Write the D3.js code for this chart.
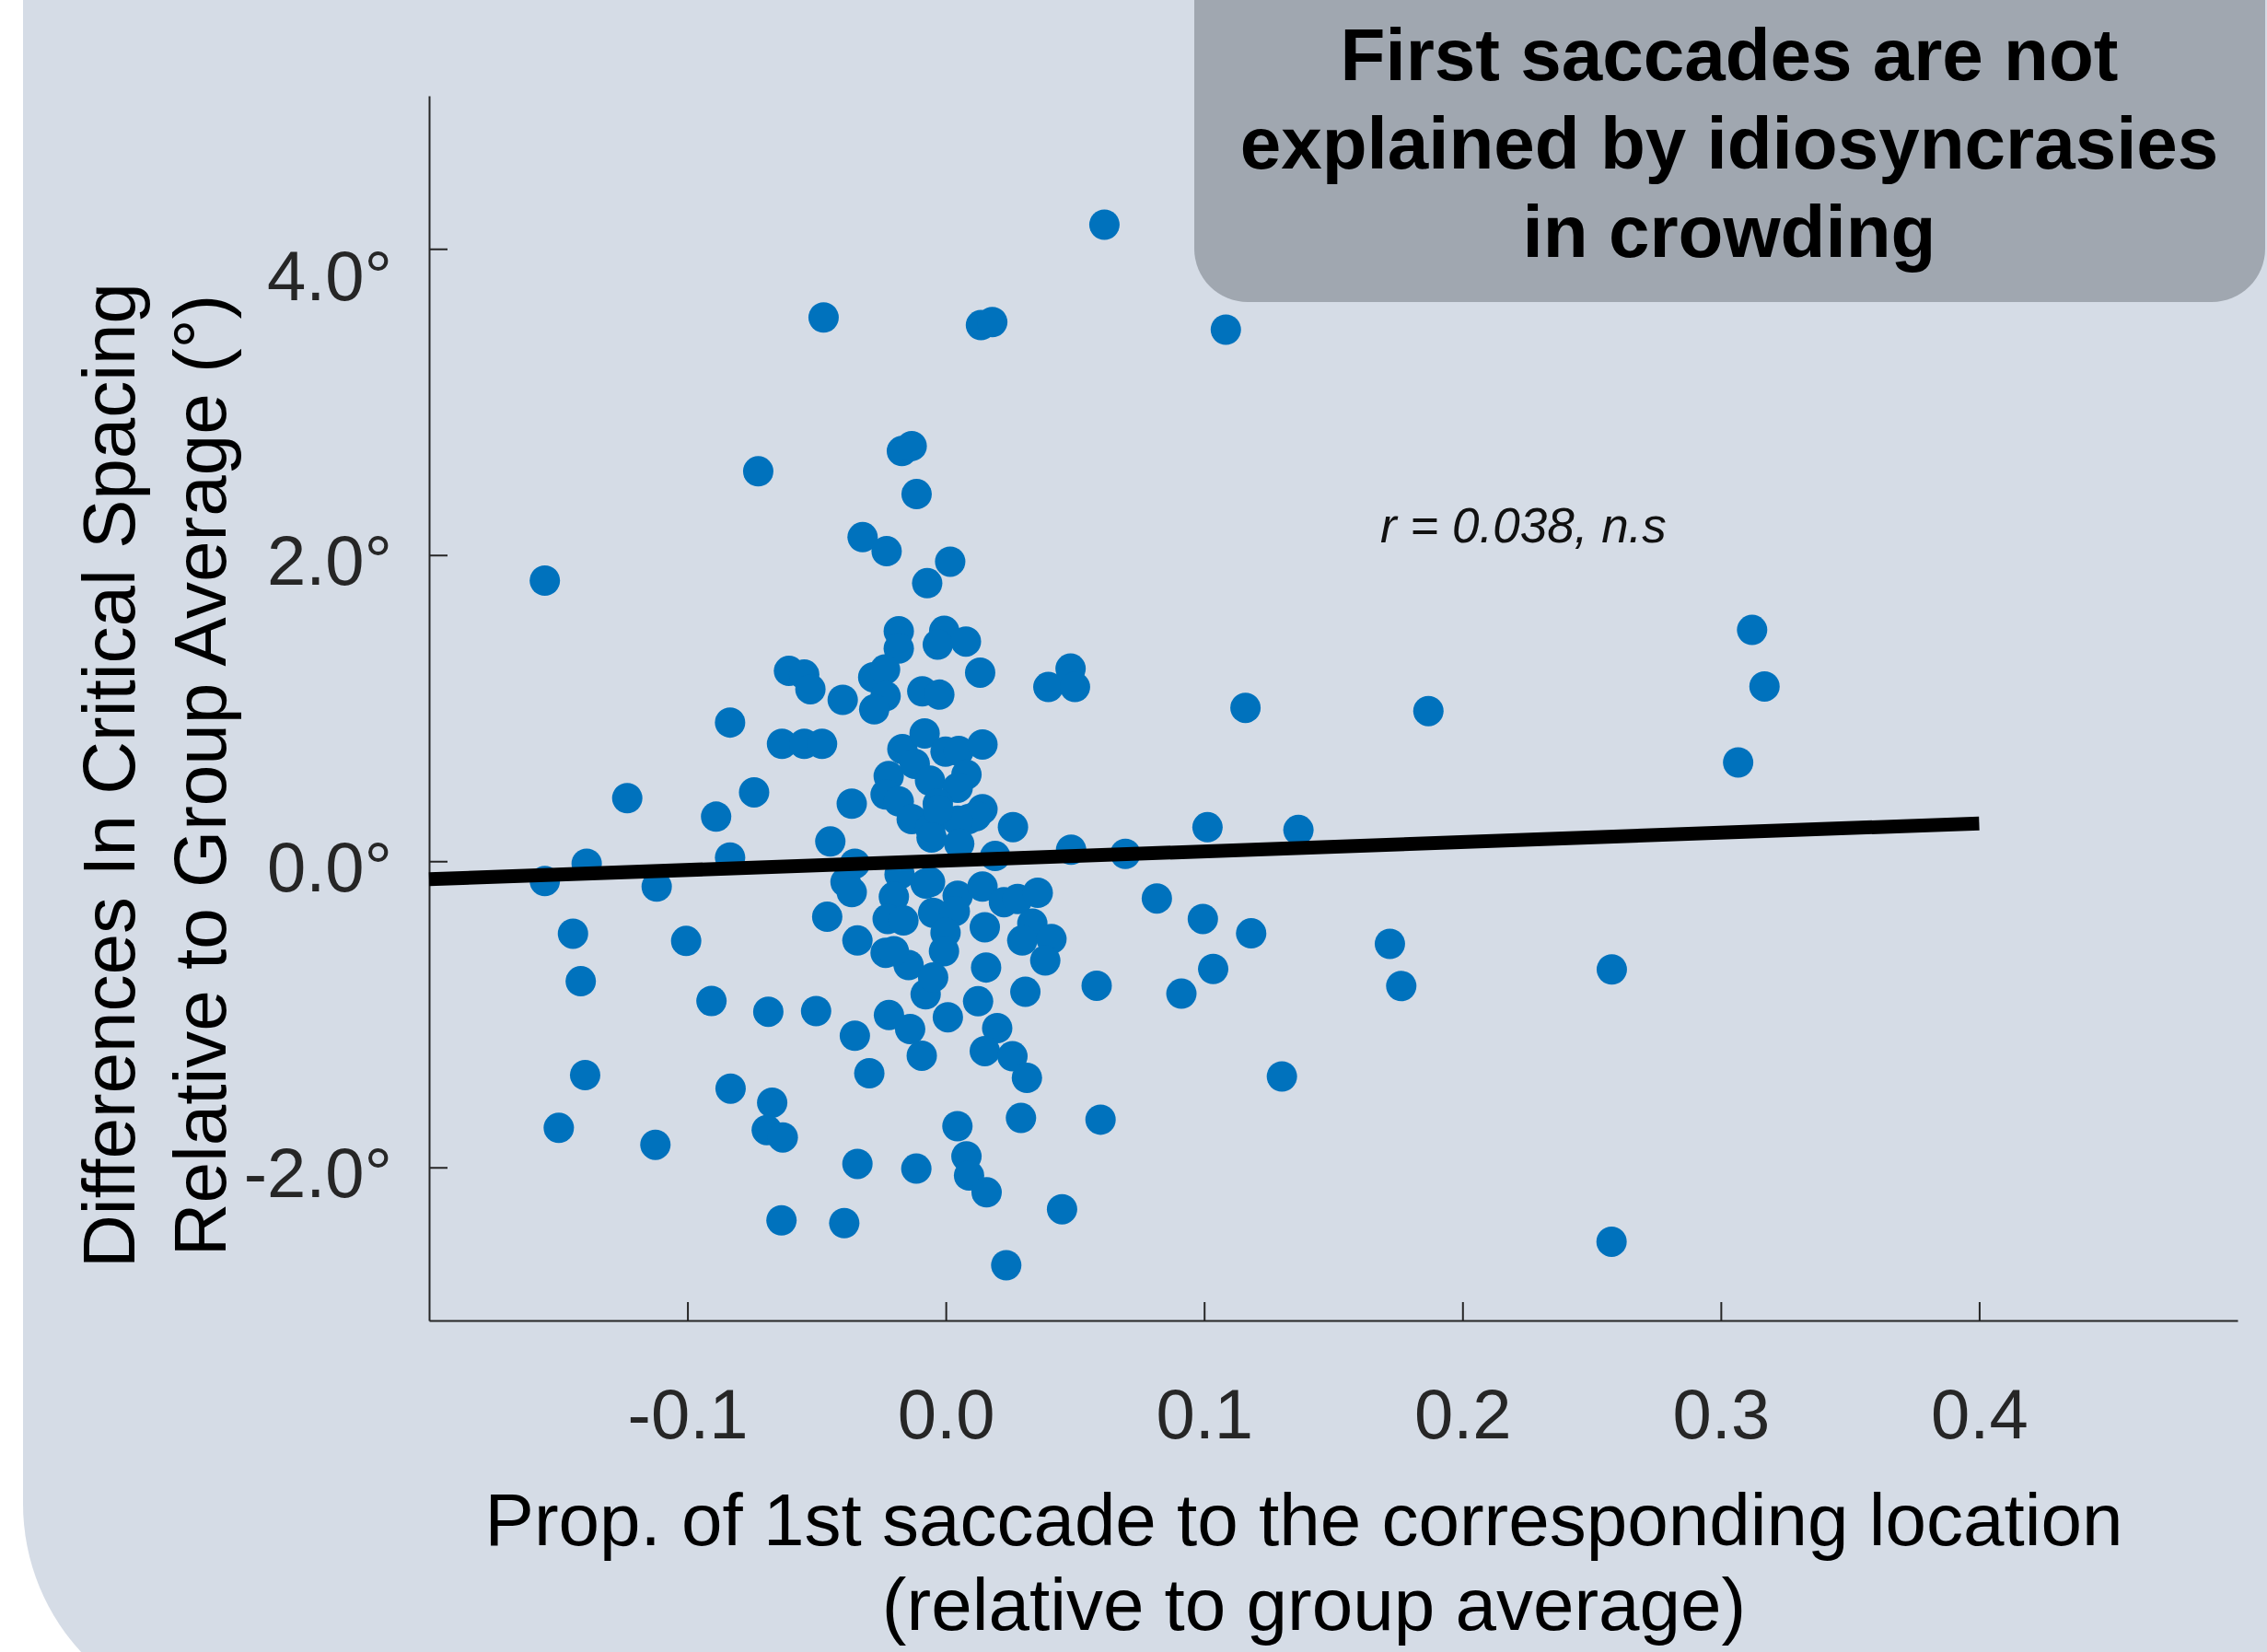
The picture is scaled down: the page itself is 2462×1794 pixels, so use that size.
<!DOCTYPE html>
<html>
<head>
<meta charset="utf-8">
<script src="https://cdn.jsdelivr.net/npm/d3@7"></script>
<style>
  html, body { margin: 0; padding: 0; background: #ffffff; }
  svg { display: block; }
</style>
</head>
<body>
<script>
// Proportion of first saccades to each location (relative to group average)
const propFirstSaccade = [
  0.0614, -0.0473, 0.0136, 0.0180, 0.1084,
  -0.0726, -0.0170, -0.0132, -0.0113, -0.1552, -0.0322, -0.0229, 0.0017, -0.0072,
  -0.0182, -0.0182, -0.0006, -0.0031, 0.0078, 0.0133, -0.0607, -0.0548, -0.0524,
  -0.0399, -0.0281, -0.0235, -0.0233, -0.0277, -0.0091, -0.0025, 0.0397, 0.0483,
  0.0500, 0.1160, -0.0835, -0.0634, -0.0548, -0.0479, -0.0168, -0.0082, -0.0120,
  -0.0221, -0.0233, -0.0182, -0.0132, -0.1233, -0.0742, -0.0889, -0.0364, -0.0447,
  -0.0001, 0.0050, 0.0142, -0.0061, 0.0080, 0.0046, -0.0031, 0.0142, 0.0088,
  0.0260, -0.0060, 0.1013, 0.1365,
  -0.1552, -0.1390, -0.0835, -0.1119, -0.0352, -0.0388, -0.0364, -0.0459, -0.0342,
  -0.0179, -0.0201, -0.0225, -0.0164, -0.0233, -0.0144, -0.0078, -0.0078, -0.1443,
  -0.1005, -0.1413, -0.0907, -0.0687, -0.0502, -0.0352, -0.0220, -0.0138, -0.0093,
  -0.0296, -0.1396, -0.0833, -0.0672, -0.0693, -0.0631, -0.1498, -0.1124, -0.0342,
  -0.0114, -0.0636, -0.0393,
  0.0485, 0.0695, 0.0191, 0.0118, 0.0046, -0.0030, -0.0055, 0.0052, -0.0061,
  0.0046, 0.0142, 0.0225, 0.0278, 0.0356, -0.0049, 0.0035, -0.0001, 0.0151,
  0.0335, 0.0296, 0.0409, 0.0385, -0.0201, -0.0007, -0.0049, 0.0156, 0.0584,
  0.0817, 0.0995, 0.1182, 0.1035, 0.0912, 0.0308, 0.0125, 0.0008, 0.0199,
  0.0151, 0.0258, 0.0314, 0.1301, 0.0045, 0.0291, 0.0599, 0.0080, 0.0090,
  0.0158, 0.0450, 0.0234,
  0.3121, 0.3169, 0.3067, 0.1868, 0.1719, 0.1763, 0.2578, 0.2577
];

// Difference in critical spacing relative to group average (deg)
const critSpacingDiff = [
  4.158, 3.552, 3.502, 3.522, 3.472,
  2.547, 2.679, 2.712, 2.398, 1.833, 2.117, 2.025, 1.957, 1.816,
  1.503, 1.389, 1.505, 1.415, 1.435, 1.232, 1.243, 1.219, 1.124,
  1.054, 1.202, 1.252, 1.078, 0.992, 1.110, 1.088, 1.138, 1.258,
  1.138, 1.002, 0.906, 0.767, 0.767, 0.767, 0.733, 0.835, 0.636,
  0.556, 0.436, 0.391, 0.275, 0.412, 0.450, 0.291, 0.376, 0.129,
  0.716, 0.721, 0.763, 0.526, 0.566, 0.480, 0.376, 0.340, 0.275,
  0.223, 0.215, 0.222, 0.204,
  -0.130, -0.016, 0.024, -0.166, -0.016, -0.136, -0.202, -0.363, -0.518,
  -0.086, -0.232, -0.377, -0.387, -0.598, -0.678, -0.146, -0.869, -0.473,
  -0.521, -0.784, -0.913, -0.983, -0.979, -1.140, -1.005, -1.096, -1.270,
  -1.385, -1.397, -1.485, -1.577, -1.756, -1.804, -1.742, -1.852, -1.977,
  -2.008, -2.346, -2.364,
  0.075, 0.048, 0.034, 0.295, 0.265, 0.335, 0.155, 0.114, -0.136,
  -0.226, -0.166, -0.267, -0.247, -0.206, -0.337, -0.327, -0.467, -0.431,
  -0.407, -0.518, -0.508, -0.648, -0.588, -0.588, -0.759, -0.694, -0.813,
  -0.243, -0.377, -0.471, -0.704, -0.865, -0.853, -0.915, -1.019, -1.090,
  -1.240, -1.274, -1.415, -1.406, -1.731, -1.677, -1.688, -1.928, -2.053,
  -2.163, -2.273, -2.639,
  1.511, 1.142, 0.645, 0.981, -0.540, -0.815, -0.707, -2.485
];

// Least-squares fit line end points
const fitX = [-0.2, 0.4];
const fitY = [-0.118, 0.247];

const xTicks = [-0.1, 0.0, 0.1, 0.2, 0.3, 0.4];
const yTicks = [-2, 0, 2, 4];

const titleLines = ["First saccades are not", "explained by idiosyncrasies", "in crowding"];
const xLabelLines = ["Prop. of 1st saccade to the corresponding location", "(relative to group average)"];
const yLabelLines = ["Differences In Critical Spacing", "Relative to Group Average (\u00B0)"];
const statText = "r = 0.038, n.s";

const W = 2462, H = 1794;
const FONT = "'Liberation Sans', Arial, Helvetica, sans-serif";

const svg = d3.select("body").append("svg")
  .attr("width", W).attr("height", H)
  .attr("viewBox", `0 0 ${W} ${H}`);

// Rounded background panel
svg.append("rect")
  .attr("x", 25).attr("y", -400)
  .attr("width", 2800).attr("height", 2270)
  .attr("rx", 237).attr("ry", 237)
  .attr("fill", "#d5dce6");

const x = d3.scaleLinear().domain([-0.2, 0.5]).range([466, 2430]);
const y = d3.scaleLinear().domain([-3, 5]).range([1434, 104]);

// Title box
svg.append("rect")
  .attr("x", 1297).attr("y", -60)
  .attr("width", 1163).attr("height", 388)
  .attr("rx", 58).attr("ry", 58)
  .attr("fill", "#a0a7b0");

svg.append("g").selectAll("text").data(titleLines).join("text")
  .attr("x", 1878)
  .attr("y", (d, i) => 87 + i * 96)
  .attr("text-anchor", "middle")
  .attr("font-family", FONT)
  .attr("font-weight", "bold")
  .attr("font-size", 80)
  .attr("fill", "#000")
  .text(d => d);

// Axes
const xAxis = d3.axisBottom(x)
  .tickValues(xTicks)
  .tickSizeInner(-20).tickSizeOuter(0)
  .tickPadding(74)
  .tickFormat(d => d.toFixed(1));

const yAxis = d3.axisLeft(y)
  .tickValues(yTicks)
  .tickSizeInner(-20).tickSizeOuter(0)
  .tickPadding(40)
  .tickFormat(d => d.toFixed(1) + "\u00B0");

const gx = svg.append("g").attr("transform", `translate(0,${y.range()[0]})`).call(xAxis);
const gy = svg.append("g").attr("transform", `translate(${x.range()[0]},0)`).call(yAxis);

[gx, gy].forEach(g => {
  g.select(".domain").attr("stroke", "#262626").attr("stroke-width", 2);
  g.selectAll(".tick line").attr("stroke", "#262626").attr("stroke-width", 2);
  g.selectAll(".tick text")
    .attr("fill", "#262626")
    .attr("font-family", FONT)
    .attr("font-size", 76);
});

// y labels hang a little below their ticks; the top one sits lower still
gy.selectAll(".tick text")
  .attr("dy", null)
  .attr("y", d => (d === d3.max(yTicks) ? 55 : 32));

// Scatter points
const pts = propFirstSaccade.map((v, i) => [v, critSpacingDiff[i]]);
svg.append("g").selectAll("circle").data(pts).join("circle")
  .attr("cx", d => x(d[0]))
  .attr("cy", d => y(d[1]))
  .attr("r", 16.5)
  .attr("fill", "#0072bd");

// Regression line
svg.append("path")
  .datum(fitX.map((v, i) => [v, fitY[i]]))
  .attr("d", d3.line().x(d => x(d[0])).y(d => y(d[1])))
  .attr("stroke", "#000")
  .attr("stroke-width", 15)
  .attr("fill", "none");

// Correlation annotation
svg.append("text")
  .attr("x", 1499).attr("y", 589)
  .attr("font-family", FONT)
  .attr("font-style", "italic")
  .attr("font-size", 53)
  .attr("fill", "#111")
  .text(statText);

// Axis titles
svg.append("g").selectAll("text").data(xLabelLines).join("text")
  .attr("x", (d, i) => 1416 + i * 11)
  .attr("y", (d, i) => 1678 + i * 92)
  .attr("text-anchor", "middle")
  .attr("font-family", FONT)
  .attr("font-size", 80)
  .attr("fill", "#000")
  .text(d => d);

svg.append("g").selectAll("text").data(yLabelLines).join("text")
  .attr("transform", (d, i) => `translate(${146 + i * 99},842) rotate(-90)`)
  .attr("text-anchor", "middle")
  .attr("font-family", FONT)
  .attr("font-size", 80)
  .attr("fill", "#000")
  .text(d => d);
</script>
</body>
</html>
